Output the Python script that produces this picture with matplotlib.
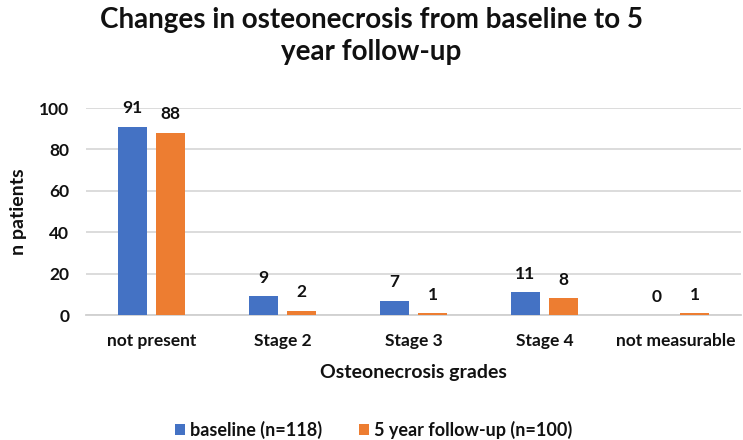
import numpy as np
import matplotlib.pyplot as plt

plt.rcParams['font.family'] = ['Lato', 'DejaVu Sans']

categories = ['not present', 'Stage 2', 'Stage 3', 'Stage 4', 'not measurable']
baseline = [91, 9, 7, 11, 0]
followup = [88, 2, 1, 8, 1]
series_names = ['baseline (n=118)', '5 year follow-up (n=100)']
yticks = [0, 20, 40, 60, 80, 100]

blue = '#4472C4'
orange = '#ED7D31'
ink = '#111111'

fig = plt.figure(figsize=(7.43, 4.40), dpi=100)
ax = fig.add_axes([0.1157, 0.284, 0.8816, 0.4705])

x = np.arange(len(categories))
w = 0.22
off = 0.145
b1 = ax.bar(x - off, baseline, w, color=blue, label=series_names[0], zorder=3)
b2 = ax.bar(x + off, followup, w, color=orange, label=series_names[1], zorder=3)

for bars, vals in [(b1, baseline), (b2, followup)]:
    for r, v in zip(bars, vals):
        ax.annotate(str(v), (r.get_x() + r.get_width() / 2, v), xytext=(0, 7.5),
                    textcoords='offset points', ha='center', va='bottom',
                    fontsize=12.5, fontweight='bold', color=ink)

ax.set_xlim(-0.5, len(categories) - 0.5)
ax.set_ylim(0, 100)
ax.set_yticks(yticks)
ax.set_xticks(x)
ax.set_xticklabels(categories)
ax.tick_params(axis='both', length=0, labelsize=12.5, colors=ink)
ax.tick_params(axis='x', pad=13)
ax.tick_params(axis='y', pad=12)
for lab in ax.get_xticklabels() + ax.get_yticklabels():
    lab.set_fontweight('bold')

ax.grid(axis='y', color='#d9d9d9', linewidth=1.3, zorder=0)
for s in ['top', 'right', 'left']:
    ax.spines[s].set_visible(False)
ax.spines['bottom'].set_color('#d0d0d0')
ax.spines['bottom'].set_linewidth(1.3)

ax.set_ylabel('n patients', fontsize=14, fontweight='bold', color=ink, labelpad=9)
ax.set_xlabel('Osteonecrosis grades', fontsize=14, fontweight='bold', color=ink, labelpad=11)

fig.suptitle('Changes in osteonecrosis from baseline to 5\nyear follow-up', x=0.5,
             y=0.985, fontsize=20, fontweight='bold', linespacing=1.3, color=ink)

leg = fig.legend(handles=[b1, b2], loc='center', bbox_to_anchor=(0.503, 0.023),
                 ncol=2, frameon=False, prop={'size': 13, 'weight': 'bold'},
                 handlelength=0.55, handleheight=0.55, handletextpad=0.3,
                 columnspacing=2.0, borderpad=0)
for t in leg.get_texts():
    t.set_color(ink)

fig.savefig('out.png', dpi=100)
